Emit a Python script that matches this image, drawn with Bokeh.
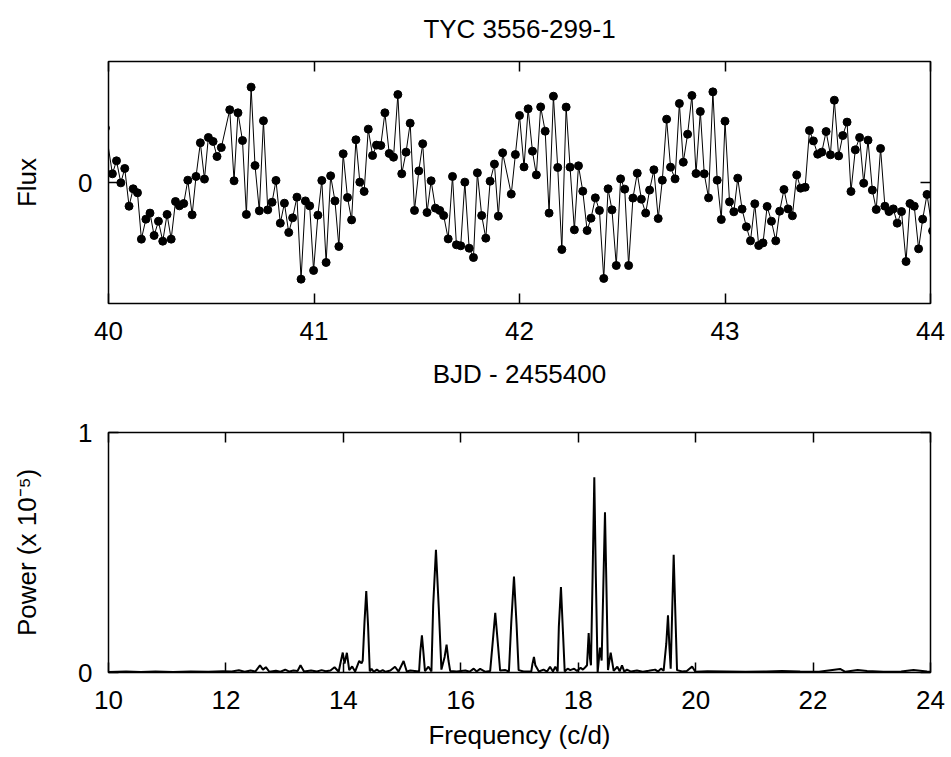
from bokeh.plotting import figure
from bokeh.layouts import column
from bokeh.models import Range1d, FixedTicker, LinearAxis
from bokeh.embed import file_html
from bokeh.resources import INLINE

# ---------------- data ----------------
title_text = "TYC 3556-299-1"

bjd = [39.985, 40.019, 40.039, 40.060, 40.079, 40.100, 40.120, 40.141, 40.160, 40.182, 40.202,
       40.222, 40.243, 40.264, 40.285, 40.305, 40.326, 40.345, 40.366, 40.386, 40.407,
       40.426, 40.447, 40.467, 40.486, 40.509, 40.528, 40.549, 40.590, 40.611, 40.630,
       40.652, 40.671, 40.694, 40.713, 40.734, 40.754, 40.775, 40.796, 40.815, 40.836,
       40.856, 40.877, 40.896, 40.917, 40.937, 40.958, 40.979, 40.998,
       41.019, 41.038, 41.059, 41.081, 41.102, 41.121, 41.142, 41.163, 41.183, 41.204,
       41.223, 41.244, 41.264, 41.285, 41.304, 41.325, 41.345, 41.366, 41.387, 41.408,
       41.427, 41.448, 41.468, 41.489, 41.510, 41.529, 41.550, 41.570, 41.591, 41.612,
       41.631, 41.653, 41.674, 41.693, 41.714, 41.734, 41.755, 41.776, 41.795, 41.816,
       41.836, 41.857, 41.878, 41.897, 41.918, 41.960, 41.980, 42.000,
       42.022, 42.042, 42.063, 42.082, 42.103, 42.125, 42.144, 42.165, 42.186, 42.206,
       42.227, 42.246, 42.267, 42.287, 42.308, 42.329, 42.348, 42.369, 42.389, 42.410,
       42.431, 42.450, 42.471, 42.492, 42.512, 42.531, 42.552, 42.573, 42.593, 42.614,
       42.633, 42.654, 42.675, 42.695, 42.716, 42.735, 42.757, 42.778, 42.797, 42.818,
       42.839, 42.859, 42.880, 42.899, 42.920, 42.941, 42.962, 42.982, 43.000,
       43.022, 43.043, 43.062, 43.083, 43.104, 43.124, 43.145, 43.164, 43.185, 43.205,
       43.226, 43.247, 43.266, 43.287, 43.307, 43.328, 43.349, 43.368, 43.390, 43.411,
       43.430, 43.451, 43.471, 43.492, 43.513, 43.532, 43.553, 43.573, 43.594, 43.613,
       43.634, 43.655, 43.675, 43.696, 43.717, 43.736, 43.757, 43.778, 43.798, 43.819,
       43.838, 43.859, 43.881, 43.900, 43.921, 43.942, 43.962, 43.983, 44.010]

flux = [0.45, 0.072, 0.179, -0.003, 0.116, -0.196, -0.052, -0.085, -0.468, -0.303, -0.253,
        -0.438, -0.320, -0.485, -0.264, -0.468, -0.157, -0.193, -0.174, 0.019, -0.267,
        0.050, 0.328, 0.028, 0.372, 0.339, 0.215, 0.289, 0.601, 0.014, 0.576,
        0.347, -0.264, 0.788, 0.140, -0.234, 0.510, -0.226, -0.163, 0.017, -0.336,
        -0.171, -0.413, -0.292, -0.121, -0.799, -0.152, -0.193, -0.727,
        -0.270, 0.017, -0.661, 0.055, -0.152, -0.529, 0.237, -0.124, -0.309, 0.353,
        0.003, -0.074, 0.441, 0.223, 0.309, 0.306, 0.576, 0.240, 0.209, 0.727,
        0.072, 0.251, 0.490, -0.231, 0.096, 0.320, -0.248, 0.014, -0.212, -0.231,
        -0.273, -0.466, 0.050, -0.515, -0.523, 0.003, -0.543, -0.620, 0.080, -0.273,
        -0.460, 0.011, 0.152, -0.278, 0.245, -0.096, 0.231, 0.554,
        0.129, 0.609, 0.259, 0.063, 0.625, 0.424, -0.253, 0.713, 0.124, -0.554,
        0.623, 0.127, -0.391, 0.138, -0.072, -0.397, -0.295, -0.127, -0.231, -0.793,
        -0.052, -0.226, -0.686, 0.030, -0.055, -0.686, -0.129, 0.077, -0.138, -0.253,
        -0.063, 0.105, -0.298, 0.019, 0.523, 0.127, 0.030, 0.653, 0.168, 0.399,
        0.719, 0.074, 0.587, 0.072, -0.127, 0.749, 0.019, -0.306, 0.507,
        -0.160, -0.242, 0.036, -0.220, -0.366, -0.482, -0.176, -0.521, -0.499, -0.198,
        -0.320, -0.482, -0.237, -0.058, -0.218, -0.275, 0.063, -0.047, -0.039, 0.430,
        0.344, 0.234, 0.251, 0.421, 0.229, 0.680, 0.220, 0.388, 0.499, -0.074,
        0.270, 0.372, -0.006, 0.350, -0.063, -0.223, 0.281, -0.196, -0.240, -0.218,
        -0.336, -0.240, -0.653, -0.174, -0.196, -0.548, -0.303, -0.099, -0.40]

freq = [10.00, 10.30, 10.55, 10.80, 11.10, 11.40, 11.70, 11.95, 12.10, 12.22, 12.32, 12.42,
        12.50, 12.58, 12.63, 12.68, 12.74, 12.85, 12.93, 13.01, 13.08, 13.15, 13.22, 13.27,
        13.33, 13.45, 13.55, 13.63, 13.70, 13.78, 13.85, 13.92, 13.96, 13.99, 14.02, 14.06,
        14.10, 14.15, 14.20, 14.27, 14.31, 14.33, 14.36, 14.39, 14.42, 14.45, 14.48, 14.52,
        14.57, 14.62, 14.67, 14.72, 14.80, 14.88, 14.94, 15.026, 15.08, 15.14, 15.29, 15.31,
        15.338, 15.365, 15.39, 15.45, 15.50, 15.53, 15.577, 15.625, 15.67, 15.725, 15.758, 15.79,
        15.82, 15.93, 16.08, 16.15, 16.22, 16.27, 16.33, 16.42, 16.50, 16.545, 16.587, 16.63,
        16.67, 16.76, 16.82, 16.86, 16.906, 16.95, 16.985, 17.07, 17.20, 17.22, 17.246, 17.27,
        17.33, 17.41, 17.47, 17.52, 17.57, 17.61, 17.65, 17.67, 17.706, 17.74, 17.77, 17.82,
        17.865, 17.93, 17.98, 18.04, 18.08, 18.12, 18.15, 18.178, 18.20, 18.217, 18.245, 18.274,
        18.30, 18.331, 18.371, 18.399, 18.425, 18.456, 18.485, 18.507, 18.553, 18.604, 18.666, 18.706,
        18.746, 18.785, 18.83, 18.90, 19.00, 19.10, 19.20, 19.31, 19.36, 19.41, 19.455, 19.50,
        19.529, 19.555, 19.575, 19.60, 19.626, 19.655, 19.683, 19.77, 19.85, 19.94, 19.995, 20.20,
        20.53, 20.85, 21.20, 21.47, 21.78, 22.10, 22.46, 22.55, 22.76, 22.92, 23.20, 23.50,
        23.71, 23.94, 24.00]

power = [0.002, 0.004, 0.002, 0.004, 0.002, 0.004, 0.003, 0.005, 0.004, 0.009, 0.003, 0.008,
         0.004, 0.030, 0.012, 0.022, 0.003, 0.007, 0.003, 0.012, 0.004, 0.008, 0.006, 0.030,
         0.004, 0.008, 0.004, 0.010, 0.005, 0.008, 0.022, 0.003, 0.050, 0.083, 0.037, 0.082,
         0.010, 0.025, 0.004, 0.048, 0.038, 0.050, 0.210, 0.339, 0.200, 0.005, 0.015, 0.003,
         0.012, 0.004, 0.010, 0.003, 0.008, 0.024, 0.004, 0.048, 0.004, 0.008, 0.004, 0.085,
         0.155, 0.080, 0.006, 0.024, 0.004, 0.280, 0.511, 0.270, 0.012, 0.065, 0.116, 0.050,
         0.006, 0.004, 0.008, 0.003, 0.016, 0.004, 0.015, 0.003, 0.006, 0.130, 0.249, 0.125,
         0.008, 0.010, 0.004, 0.210, 0.400, 0.200, 0.010, 0.004, 0.004, 0.035, 0.065, 0.030,
         0.004, 0.012, 0.004, 0.024, 0.004, 0.024, 0.004, 0.190, 0.356, 0.170, 0.004, 0.016,
         0.010, 0.016, 0.006, 0.020, 0.012, 0.022, 0.030, 0.164, 0.060, 0.030, 0.400, 0.813,
         0.400, 0.000, 0.104, 0.050, 0.330, 0.668, 0.300, 0.010, 0.083, 0.007, 0.024, 0.005,
         0.030, 0.004, 0.012, 0.004, 0.008, 0.003, 0.007, 0.012, 0.004, 0.016, 0.008, 0.120,
         0.238, 0.100, 0.016, 0.250, 0.490, 0.240, 0.010, 0.004, 0.006, 0.025, 0.003, 0.005,
         0.004, 0.003, 0.004, 0.006, 0.004, 0.003, 0.015, 0.003, 0.010, 0.006, 0.003, 0.004,
         0.010, 0.004, 0.003]

bjd_ticks = [40, 41, 42, 43, 44]
flux_ticks = [0]
freq_ticks = [10, 12, 14, 16, 18, 20, 22, 24]
power_ticks = [0, 1]

# ---------------- style ----------------
FONT = "Liberation Sans"
FS = "26px"


def style_axis(ax, show_labels=True):
    ax.axis_line_color = None
    ax.major_tick_in = 10
    ax.major_tick_out = 0
    ax.major_tick_line_color = "black"
    ax.major_tick_line_width = 1.5
    ax.minor_tick_line_color = None
    ax.major_label_text_font = FONT
    ax.axis_label_text_font = FONT
    ax.axis_label_text_font_style = "normal"
    ax.axis_label_text_color = "black"
    ax.axis_label_text_font_size = FS
    if show_labels:
        ax.major_label_text_font_size = FS
        ax.major_label_text_color = "black"
    else:
        ax.major_label_text_font_size = "1px"
        ax.major_label_text_color = None
        ax.major_label_standoff = 0


def base_fig(w, h, xr, yr, bl, br, bt, bb):
    p = figure(width=w, height=h, output_backend="svg", toolbar_location=None,
               x_range=Range1d(*xr), y_range=Range1d(*yr),
               min_border_left=bl, min_border_right=br, min_border_top=bt, min_border_bottom=bb)
    p.grid.grid_line_color = None
    p.outline_line_color = "black"
    p.outline_line_width = 1.5
    p.outline_line_alpha = 1.0
    p.background_fill_color = "white"
    p.border_fill_color = "white"
    return p


# ---------------- top panel: light curve ----------------
p1 = base_fig(951, 400, (40, 44), (-1, 1), 108, 21, 61, 97)

p1.line(bjd, flux, line_color="black", line_width=1)
p1.scatter(bjd, flux, size=8, fill_color="black", line_color="black")

p1.xaxis.ticker = FixedTicker(ticks=bjd_ticks)
p1.yaxis.ticker = FixedTicker(ticks=flux_ticks)
p1.xaxis.axis_label = "BJD - 2455400"
p1.yaxis.axis_label = "Flux"
style_axis(p1.xaxis[0])
style_axis(p1.yaxis[0])
p1.xaxis.major_label_standoff = 18
p1.xaxis.axis_label_standoff = 16
p1.yaxis.major_label_standoff = 16
p1.yaxis.axis_label_standoff = 33

# mirrored top axis: its axis label carries the chart title
t1 = LinearAxis(ticker=FixedTicker(ticks=bjd_ticks))
style_axis(t1, False)
t1.axis_label = title_text
t1.axis_label_standoff = 18
p1.add_layout(t1, "above")
r1 = LinearAxis(ticker=FixedTicker(ticks=flux_ticks))
style_axis(r1, False)
p1.add_layout(r1, "right")

# ---------------- bottom panel: periodogram ----------------
p2 = base_fig(951, 357, (10, 24), (0, 1), 108, 21, 32, 85)
p2.line(freq, power, line_color="black", line_width=2)

p2.xaxis.ticker = FixedTicker(ticks=freq_ticks)
p2.yaxis.ticker = FixedTicker(ticks=power_ticks)
p2.xaxis.axis_label = "Frequency (c/d)"
p2.yaxis.axis_label = "Power (x 10\u207b\u2075)"
style_axis(p2.xaxis[0])
style_axis(p2.yaxis[0])
p2.xaxis.major_label_standoff = 18
p2.xaxis.axis_label_standoff = 8
p2.yaxis.major_label_standoff = 16
p2.yaxis.axis_label_standoff = 33

t2 = LinearAxis(ticker=FixedTicker(ticks=freq_ticks))
style_axis(t2, False)
p2.add_layout(t2, "above")
r2 = LinearAxis(ticker=FixedTicker(ticks=power_ticks))
style_axis(r2, False)
p2.add_layout(r2, "right")

layout = column(p1, p2, spacing=0)
open("out.html", "w").write(file_html(layout, INLINE))
